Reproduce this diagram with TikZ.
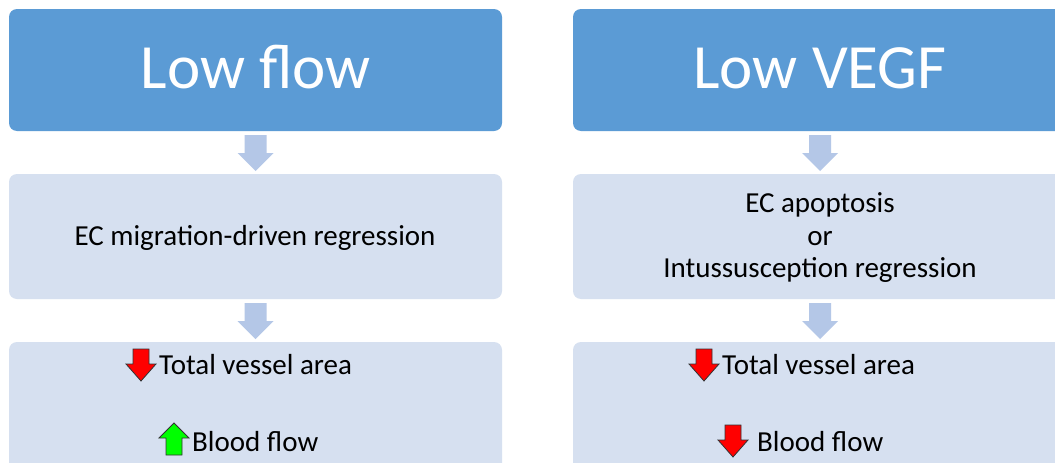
\documentclass[tikz,border=0pt]{standalone}
\usepackage{fontspec}
\setmainfont{Carlito}
\definecolor{topblue}{HTML}{5B9BD5}
\definecolor{midblue}{HTML}{D6E0F0}
\definecolor{arrblue}{HTML}{B4C7E7}
\begin{document}
\begin{tikzpicture}[x=1pt,y=-1pt,
  box/.style={rounded corners=8pt, inner sep=0pt, minimum width=493pt},
  topbox/.style={box, fill=topblue, minimum height=122pt},
  midbox/.style={box, fill=midblue, minimum height=125pt},
  botbox/.style={box, fill=midblue, minimum height=140pt},
  title/.style={anchor=base, text=white, font=\fontsize{63}{75}\selectfont, inner sep=0pt},
  txt/.style={anchor=base, text=black, font=\fontsize{29}{34}\selectfont, inner sep=0pt},
  ltxt/.style={anchor=base west, text=black, font=\fontsize{29}{34}\selectfont, inner sep=0pt},
  flowarrow/.style={fill=arrblue},
  redarr/.style={fill=red, draw=black!80, line width=0.8pt, line join=miter},
  greenarr/.style={fill=green, draw=black!80, line width=0.8pt, line join=miter}
]
\useasboundingbox (0,0) rectangle (1055,463);
\clip (0,0) rectangle (1055,463);
\fill[white] (0,0) rectangle (1055,463);

% left column
\node[topbox] (t1) at (255.5,70) {};
\node[midbox] (m1) at (255.5,236.5) {};
\node[botbox] (b1) at (255.5,412) {};
\node[title] (t1txt) at (256,88) {Low flow};
\node[txt] (m1txt) at (255,245) {EC migration-driven regression};
\node[ltxt] (b1a) at (159,374) {Total vessel area};
\node[ltxt] (b1b) at (192,451) {Blood flow};

% right column
\node[topbox, minimum width=497pt] (t2) at (821.5,70) {};
\node[midbox, minimum width=497pt] (m2) at (821.5,236.5) {};
\node[botbox, minimum width=497pt] (b2) at (821.5,412) {};
\node[title] (t2txt) at (820,88) {Low VEGF};
\node[txt] (m2a) at (820,212) {EC apoptosis};
\node[txt] (m2b) at (820,245) {or};
\node[txt] (m2c) at (820,277) {Intussusception regression};
\node[ltxt] (b2a) at (722,374) {Total vessel area};
\node[ltxt] (b2b) at (757,451) {Blood flow};

% flow arrows (between boxes)
\coordinate (c1) at (255.5,135);
\coordinate (c2) at (255.5,303);
\coordinate (c3) at (820,135);
\coordinate (c4) at (820,303);
\foreach \c in {c1,c2,c3,c4}{
  \fill[flowarrow] (\c) ++(-11,0) -- ++(22,0) -- ++(0,18) -- ++(7,0) -- ++(-18,18) -- ++(-18,-18) -- ++(7,0) -- cycle;
}

% red / green indicator arrows
\coordinate (r1) at (141,349);
\coordinate (r2) at (704,349);
\coordinate (r3) at (733,425);
\foreach \c in {r1,r2,r3}{
  \draw[redarr] (\c) ++(-8,0) -- ++(16,0) -- ++(0,15) -- ++(7,0) -- ++(-15,17) -- ++(-15,-17) -- ++(7,0) -- cycle;
}
\coordinate (g1) at (174,455);
\draw[greenarr] (g1) ++(-8,0) -- ++(16,0) -- ++(0,-17) -- ++(7,0) -- ++(-15,-15) -- ++(-15,15) -- ++(7,0) -- cycle;
\end{tikzpicture}
\end{document}
